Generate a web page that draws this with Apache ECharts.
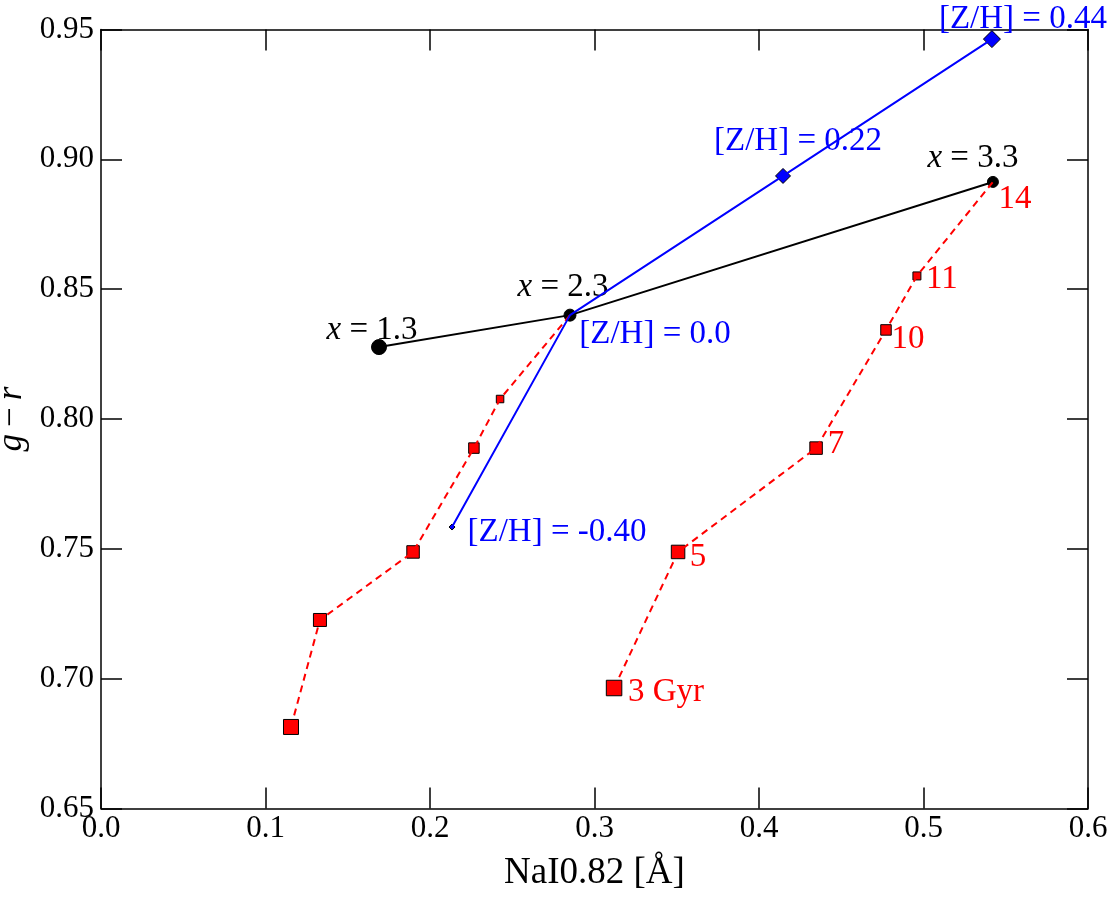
<!DOCTYPE html>
<html>
<head>
<meta charset="utf-8">
<script src="https://cdn.jsdelivr.net/npm/echarts@6/dist/echarts.min.js"></script>
<style>
html,body{margin:0;padding:0;background:#fff;}
#chart{width:1113px;height:901px;}
</style>
</head>
<body>
<div id="chart"></div>
<script>
// ---- data ----
const xTickValues = [0.0, 0.1, 0.2, 0.3, 0.4, 0.5, 0.6];
const yTickValues = [0.65, 0.70, 0.75, 0.80, 0.85, 0.90, 0.95];

// IMF slope track (black): x = 1.3, 2.3, 3.3
const imfLabels = ['1.3', '2.3', '3.3'];
const imfNaI = [0.169, 0.2851, 0.5422];
const imfGR = [0.8277, 0.840, 0.8913];

// metallicity track (blue)
const zhLabels = ['-0.40', '0.0', '0.22', '0.44'];
const zhNaI = [0.2134, 0.2851, 0.4146, 0.5416];
const zhGR = [0.7584, 0.840, 0.8936, 0.9463];

// age track, x = 2.3 (red, left)
const ageLeftNaI = [0.1155, 0.1331, 0.1897, 0.2267, 0.2426, 0.2851];
const ageLeftGR = [0.6814, 0.7226, 0.7488, 0.7888, 0.8077, 0.840];

// age track, x = 3.3 (red, right)
const ageRightLabels = ['3 Gyr', '5', '7', '10', '11', '14'];
const ageRightNaI = [0.3119, 0.3508, 0.4347, 0.4772, 0.4960, 0.5422];
const ageRightGR = [0.6964, 0.7488, 0.7888, 0.8343, 0.8551, 0.8913];

// ---- styles ----
const FONT = "'Liberation Serif', 'DejaVu Serif', serif";
const imfSizes = [15, 12, 11];
const imfOffsets = [[-7, -17], [-7, -28], [-20, -24]];
const zhSizes = [6, 10, 15, 17];
const zhOffsets = [[105, 5], [85, 19], [15, -35], [31, -20]];
const ageLeftSizes = [15, 13, 12.5, 10.5, 7.5, 0];
const ageRightSizes = [15.5, 13.5, 12.5, 10.5, 8, 0];
const ageRightOffsets = [[52, 4], [20, 5], [20, -4], [22, 9], [25, 3], [22, 17]];

function pairs(xs, ys) { return xs.map((x, i) => [x, ys[i]]); }

const labelBase = {
  show: true, position: 'inside', align: 'center', verticalAlign: 'middle',
  fontFamily: FONT, fontSize: 33
};

const chart = echarts.init(document.getElementById('chart'), null, {renderer: 'canvas'});

const axisCommonX = {
  type: 'value', min: 0, max: 0.6, interval: 0.1,
  axisLine: {show: true, onZero: false, lineStyle: {color: '#000', width: 1.5}},
  axisTick: {show: true, inside: true, length: 21, lineStyle: {color: '#000', width: 1.5}},
  splitLine: {show: false}
};
const axisCommonY = {
  type: 'value', min: 0.65, max: 0.95, interval: 0.05,
  axisLine: {show: true, onZero: false, lineStyle: {color: '#000', width: 1.5}},
  axisTick: {show: true, inside: true, length: 21, lineStyle: {color: '#000', width: 1.5}},
  splitLine: {show: false}
};

const option = {
  backgroundColor: '#fff',
  animation: false,
  grid: {left: 101, right: 25, top: 29.5, bottom: 92.5, containLabel: false, outerBoundsMode: 'none'},
  xAxis: [
    Object.assign({}, axisCommonX, {
      position: 'bottom',
      axisLabel: {show: true, margin: 5, color: '#000', fontFamily: FONT, fontSize: 31,
        formatter: v => v.toFixed(1)},
      name: 'NaI0.82 [Å]', nameLocation: 'middle', nameGap: 46,
      nameTextStyle: {color: '#000', fontFamily: FONT, fontSize: 37}
    }),
    Object.assign({}, axisCommonX, {position: 'top', axisLabel: {show: false}})
  ],
  yAxis: [
    Object.assign({}, axisCommonY, {
      position: 'left',
      axisLabel: {show: true, margin: 7, color: '#000', fontFamily: FONT, fontSize: 31,
        formatter: v => v.toFixed(2)},
      name: '{i|g}\u2009\u2212\u2009{i|r}', nameLocation: 'middle', nameGap: 68,
      nameTextStyle: {color: '#000', fontFamily: FONT, fontSize: 35,
        rich: {i: {fontStyle: 'italic', fontFamily: FONT, fontSize: 35, color: '#000'}}}
    }),
    Object.assign({}, axisCommonY, {position: 'right', axisLabel: {show: false}})
  ],
  series: [
    // lines (drawn above markers)
    {
      type: 'line', name: 'imf-line', z: 5, showSymbol: false, symbol: 'none', silent: true,
      data: pairs(imfNaI, imfGR),
      lineStyle: {color: '#000', width: 2}
    },
    {
      type: 'line', name: 'age-left-line', z: 6, showSymbol: false, symbol: 'none', silent: true,
      data: pairs(ageLeftNaI, ageLeftGR),
      lineStyle: {color: '#ff0000', width: 2, type: [7, 5]}
    },
    {
      type: 'line', name: 'age-right-line', z: 6, showSymbol: false, symbol: 'none', silent: true,
      data: pairs(ageRightNaI, ageRightGR),
      lineStyle: {color: '#ff0000', width: 2, type: [7, 5]}
    },
    {
      type: 'line', name: 'zh-line', z: 7, showSymbol: false, symbol: 'none', silent: true,
      data: pairs(zhNaI, zhGR),
      lineStyle: {color: '#0000ff', width: 2}
    },
    // markers
    {
      type: 'scatter', name: 'age-left', z: 2,
      data: ageLeftNaI.map((x, i) => ({
        value: [x, ageLeftGR[i]], symbolSize: ageLeftSizes[i],
        itemStyle: ageLeftSizes[i] ? {} : {color: 'transparent', borderWidth: 0}
      })),
      symbol: 'rect',
      itemStyle: {color: '#ff0000', borderColor: '#000', borderWidth: 1, opacity: 1}
    },
    {
      type: 'scatter', name: 'age-right', z: 2,
      data: ageRightNaI.map((x, i) => ({
        value: [x, ageRightGR[i]], symbolSize: ageRightSizes[i] || 1,
        itemStyle: ageRightSizes[i] ? {} : {color: 'transparent', borderWidth: 0},
        label: Object.assign({}, labelBase, {
          color: '#ff0000', offset: ageRightOffsets[i], formatter: ageRightLabels[i]
        })
      })),
      symbol: 'rect',
      itemStyle: {color: '#ff0000', borderColor: '#000', borderWidth: 1, opacity: 1}
    },
    {
      type: 'scatter', name: 'zh', z: 2,
      data: zhNaI.map((x, i) => ({
        value: [x, zhGR[i]], symbolSize: zhSizes[i],
        label: Object.assign({}, labelBase, {
          color: '#0000ff', offset: zhOffsets[i], formatter: '[Z/H] = ' + zhLabels[i]
        })
      })),
      symbol: 'diamond',
      itemStyle: {color: '#0000ff', borderColor: '#000', borderWidth: 1, opacity: 1}
    },
    {
      type: 'scatter', name: 'imf', z: 3,
      data: imfNaI.map((x, i) => ({
        value: [x, imfGR[i]], symbolSize: imfSizes[i],
        label: Object.assign({}, labelBase, {
          color: '#000', offset: imfOffsets[i], formatter: '{i|x} = ' + imfLabels[i],
          rich: {i: {fontStyle: 'italic', fontFamily: FONT, fontSize: 33, color: '#000'}}
        })
      })),
      symbol: 'circle',
      itemStyle: {color: '#000', borderColor: '#000', borderWidth: 1, opacity: 1}
    }
  ]
};
chart.setOption(option);
</script>
</body>
</html>
